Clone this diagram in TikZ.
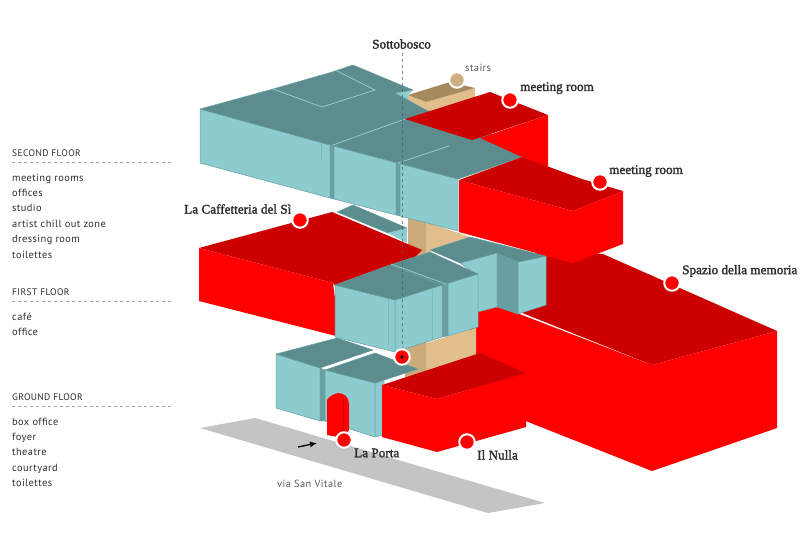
\documentclass[tikz,border=0pt]{standalone}
\usepackage{fontspec}
\setmainfont{Liberation Serif}
\newfontfamily\placefont[FakeBold=2]{Liberation Serif}
\newfontfamily\listfont[LetterSpace=4]{PT Sans}
\usetikzlibrary{arrows.meta,positioning,calc}
\definecolor{glasslight}{RGB}{140,204,206}
\definecolor{glassdark}{RGB}{92,140,142}
\definecolor{glassedge}{RGB}{104,160,162}
\definecolor{redlight}{RGB}{255,0,0}
\definecolor{reddark}{RGB}{204,0,0}
\definecolor{sandlight}{RGB}{226,190,140}
\definecolor{sandmid}{RGB}{205,170,122}
\definecolor{sanddark}{RGB}{165,138,94}
\definecolor{roadgray}{RGB}{196,196,196}
\definecolor{midgray}{RGB}{90,90,90}
\definecolor{inkgray}{RGB}{45,45,45}
\begin{document}
\begin{tikzpicture}[x=1pt,y=-1pt,
  glassfront/.style={fill=glasslight, draw=glassedge, line width=0.5pt, line join=round},
  glasstop/.style={fill=glassdark, draw=glassedge, line width=0.5pt, line join=round},
  glassside/.style={fill=glassedge, draw=glassedge, line width=0.4pt},
  seam/.style={draw=glasslight, line width=0.8pt},
  faint/.style={draw=glassdark, line width=0.5pt, opacity=0.3},
  redfront/.style={fill=redlight},
  redtop/.style={fill=reddark},
  pin/.style={circle, fill=redlight, draw=white, line width=2pt, minimum size=15.5pt, inner sep=0pt},
  place/.style={font=\placefont\fontsize{13.2}{15}\selectfont, text=inkgray, inner sep=0pt, anchor=west},
  heading/.style={font=\listfont\fontsize{9.5}{12}\selectfont, text=inkgray, inner sep=0pt, anchor=west},
  street/.style={font=\listfont\fontsize{10.4}{12}\selectfont, text=midgray, inner sep=0pt, anchor=west},
  items/.style={font=\listfont\fontsize{10.4}{15.4}\selectfont, text=inkgray, inner sep=0pt, anchor=north west, align=left},
  rule/.style={draw=black!35, dashed, line width=0.5pt}
]
\useasboundingbox (0,0) rectangle (800,550);

% road
\fill[roadgray] (200,428) -- (255,418) -- (545,503) -- (488,513) -- cycle;

% memory hall
\fill[redtop] (652,365) -- (777,331) -- (603,254) -- (540,250) -- (490,300) -- cycle;
\fill[redfront] (470,295) -- (652,365) -- (652,471) -- (470,399) -- cycle;
\fill[redfront] (652,365) -- (777,331) -- (777,428) -- (652,471) -- cycle;

% sand core
\fill[sandlight] (426,343) -- (476,328) -- (476,355) -- (426,372) -- cycle;
\fill[sandmid] (405,345) -- (426,340) -- (426,372) -- (405,378) -- cycle;
\fill[sandlight] (426,222) -- (470,237) -- (430,252) -- (426,254) -- cycle;
\fill[sandmid] (408,215) -- (426,222) -- (426,254) -- (408,260) -- cycle;

% first floor
\path[glasstop] (337,212) -- (353,205) -- (407,228) -- (388,233) -- cycle;
\fill[glasslight] (388,233) -- (407,228) -- (407,243) -- cycle;
\fill[redtop] (199,248) -- (332,212) -- (422,250) -- (400,272) -- (340,292) -- (333,283) -- cycle;
\fill[redfront] (199,248) -- (333,283) -- (340,337) -- (199,301) -- cycle;

\path[glassfront] (460,263) -- (497,253) -- (497,307) -- (470,314) -- (470,270) -- cycle;
\path[glassside] (497,253) -- (518,262) -- (518,314) -- (497,307) -- cycle;
\path[glassfront] (518,262) -- (546,256) -- (546,305) -- (518,314) -- cycle;
\path[glasstop] (430,250) -- (470,237) -- (546,256) -- (518,262) -- (497,253) -- (460,263) -- cycle;

\path[glassside] (442,285) -- (448,283) -- (448,336) -- (442,337) -- cycle;
\path[glassfront] (448,283) -- (478,274) -- (478,327) -- (448,336) -- cycle;
\path[glasstop] (390,265) -- (430,252) -- (478,274) -- (442,285) -- cycle;

\path[glassfront] (335,285) -- (395,300) -- (395,352) -- (335,337) -- cycle;
\path[glassfront] (395,300) -- (442,285) -- (442,337) -- (395,352) -- cycle;
\path[glasstop] (335,285) -- (390,265) -- (442,285) -- (395,300) -- cycle;
\draw[seam] (391,264) -- (446,284);
\draw[faint] (388,267) -- (388,345);
\draw[faint] (432,290) -- (432,340);

% ground floor
\path[glassfront] (276,354) -- (320,368) -- (320,421) -- (276,408) -- cycle;
\path[glassside] (320,368) -- (325,370) -- (325,421) -- (320,421) -- cycle;
\path[glasstop] (276,354) -- (337,338) -- (373,350) -- (320,368) -- cycle;
\path[glassfront] (325,370) -- (375,383) -- (375,437) -- (325,421) -- cycle;
\path[glassfront] (375,383) -- (384,381) -- (384,435) -- (375,437) -- cycle;
\path[glasstop] (325,370) -- (375,353) -- (418,369) -- (375,383) -- cycle;
\fill[redfront] (327,435) -- (327,400) .. controls (329,396) and (334,394) .. (338,393)
  .. controls (344,393) and (349,397) .. (349,404) -- (349,430) -- (344,438) -- cycle;
\draw[draw=reddark, line width=0.4pt] (343,398) -- (343,437);

% nulla
\fill[redtop] (382,385) -- (480,353) -- (526,373) -- (437,399) -- cycle;
\fill[redfront] (382,385) -- (437,399) -- (437,452) -- (382,437) -- cycle;
\fill[redfront] (437,399) -- (526,373) -- (526,427) -- (437,452) -- cycle;

% stairs
\fill[sandlight] (408,95) -- (426,102) -- (475,88) -- (475,110) -- (426,125) -- (408,118) -- cycle;
\fill[sanddark] (408,95) -- (450,82) -- (475,88) -- (426,102) -- cycle;
\fill[glasslight] (395,93) -- (413,90) -- (408,95) -- (408,103) -- cycle;

% second floor
\path[glassfront] (200,109) -- (330,145) -- (330,198) -- (200,163) -- cycle;
\path[glassside] (330,145) -- (334,146) -- (334,199) -- (330,198) -- cycle;
\path[glassfront] (334,146) -- (396,163) -- (396,215) -- (334,199) -- cycle;
\path[glassside] (396,163) -- (400,164) -- (400,216) -- (396,215) -- cycle;
\path[glassfront] (400,164) -- (458,179) -- (458,231) -- (400,216) -- cycle;
\path[glasstop] (200,109) -- (273,89) -- (332,72) -- (353,65) -- (413,90) -- (395,93)
  -- (426,110) -- (485,130) -- (522,157) -- (458,179) -- (330,145) -- cycle;
\draw[seam] (273,89) -- (322,107) -- (375,90) -- (335,70);
\draw[seam] (333,145) -- (405,119);
\draw[seam] (398,163) -- (449,146);
\draw[faint] (321,108) -- (321,160);

% meeting rooms
\fill[redfront] (480,138) -- (548,115) -- (548,167) -- (522,157) -- cycle;
\fill[redtop] (405,119) -- (490,92) -- (548,115) -- (472,140) -- cycle;
\fill[redtop] (459,180) -- (522,157) -- (582,179) -- (623,191) -- (573,211) -- cycle;
\fill[redfront] (459,180) -- (573,211) -- (573,263) -- (459,232) -- cycle;
\fill[redfront] (573,211) -- (623,191) -- (623,244) -- (573,263) -- cycle;

% labels and pins
\node[place] (sottobosco) at (372,44) {Sottobosco};
\node[pin] (corepin) at (402,357) {};
\fill[black] (corepin.center) circle (1.8pt);
\draw[draw=glassdark!70!black, dashed, line width=0.7pt, opacity=0.7] (sottobosco.south -| corepin) ++(0,4) -- (corepin.north);

\node[pin, fill=sandlight!92!black] (stairspin) at (457,80) {};
\node[street] (stairs) at (465,68) {stairs};
\node[pin] (roompin) at (510,100) {};
\node[place] (room) at (520,88) {meeting room};
\node[pin] (roomtwopin) at (600,182) {};
\node[place] (roomtwo) at (609,171) {meeting room};
\node[pin] (spaziopin) at (672,283) {};
\node[place] (spazio) at (682,271) {Spazio della memoria};
\node[pin] (caffepin) at (300,220) {};
\node[place] (caffe) at (184,209) {La Caffetteria del Sì};
\node[pin] (portapin) at (344,440) {};
\node[place] (porta) at (354,453) {La Porta};
\node[pin] (nullapin) at (467,442) {};
\node[place] (nulla) at (477,455) {Il Nulla};
\node[street] (vitale) at (277,484) {via San Vitale};
\coordinate (walkfrom) at (298,447);
\coordinate (walkto) at (317,443);
\draw[-{Latex[length=7pt,width=6pt]}, line width=1.3pt, black] (walkfrom) -- (walkto);

% floor lists
\node[heading] (second) at (12,153) {SECOND FLOOR};
\draw[rule] (12,162) -- (172,162);
\node[items] (secondlist) at (12,173.5) {meeting rooms\\offices\\studio\\artist chill out zone\\dressing room\\toilettes};
\node[heading] (first) at (12,292) {FIRST FLOOR};
\draw[rule] (12,301) -- (172,301);
\node[items] (firstlist) at (12,312.5) {café\\office};
\node[heading] (ground) at (12,397) {GROUND FLOOR};
\draw[rule] (12,406) -- (172,406);
\node[items] (groundlist) at (12,417.5) {box office\\foyer\\theatre\\courtyard\\toilettes};
\end{tikzpicture}
\end{document}
